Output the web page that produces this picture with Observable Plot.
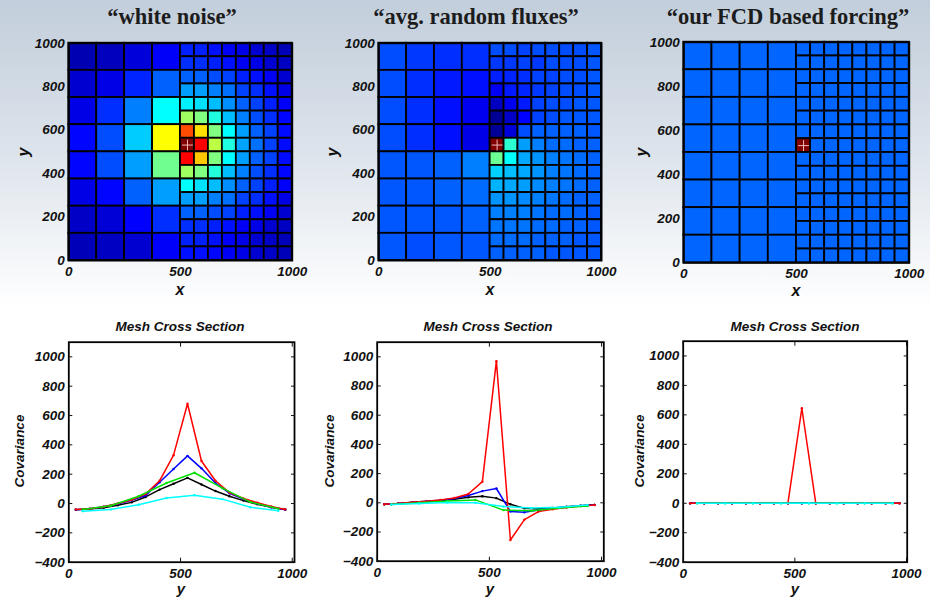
<!DOCTYPE html>
<html><head><meta charset="utf-8">
<script src="https://cdn.jsdelivr.net/npm/d3@7"></script>
<script src="https://cdn.jsdelivr.net/npm/@observablehq/plot@0.6"></script>
<style>
html,body{margin:0;padding:0;}
body{width:930px;height:599px;overflow:hidden;position:relative;
  background:linear-gradient(to bottom,#c2cedb 0px,#dce3eb 150px,#fbfcfd 290px,#ffffff 310px,#ffffff 599px);}
#root{position:absolute;left:0;top:0;width:930px;height:599px;}
.title{position:absolute;top:6px;font-family:"Liberation Serif","Times New Roman",serif;font-weight:bold;font-size:22.5px;line-height:1;color:#1c1c1c;transform:translateX(-50%);white-space:nowrap;}
.sub{position:absolute;top:320px;font-family:"Liberation Sans",Arial,sans-serif;font-weight:bold;font-style:italic;font-size:13.5px;line-height:1;color:#111;transform:translateX(-50%);white-space:nowrap;}
.lab{position:absolute;font-family:"Liberation Sans",Arial,sans-serif;font-weight:bold;font-style:italic;line-height:1;color:#111;white-space:nowrap;}
</style></head>
<body>
<div id="root"></div>
<script>
// ---------- mesh definition ----------
const coarseEdgesX = [0, 125, 250, 375, 500];
const coarseEdgesY = [0, 125, 250, 375, 500, 625, 750, 875, 1000];
const fineEdgesX = [500, 562.5, 625, 687.5, 750, 812.5, 875, 937.5, 1000];
const fineEdgesY = [0, 62.5, 125, 187.5, 250, 312.5, 375, 437.5, 500, 562.5, 625, 687.5, 750, 812.5, 875, 937.5, 1000];
const targetCell = {col: 0, row: 8}; // fine cell marked with "+" (row counted from bottom)

// ---------- heatmap values (jet colormap level 0..1), rows listed top -> bottom ----------
const whiteNoiseCoarse = [
  [0.05, 0.06, 0.09, 0.12],
  [0.08, 0.10, 0.16, 0.22],
  [0.10, 0.17, 0.25, 0.375],
  [0.13, 0.20, 0.325, 0.625],
  [0.13, 0.20, 0.28, 0.485],
  [0.10, 0.13, 0.22, 0.28],
  [0.07, 0.085, 0.125, 0.17],
  [0.055, 0.065, 0.08, 0.12]
];
const whiteNoiseFine = [
  [0.155, 0.155, 0.14, 0.115, 0.10, 0.08, 0.07, 0.055],
  [0.17, 0.17, 0.155, 0.14, 0.115, 0.10, 0.08, 0.065],
  [0.22, 0.22, 0.20, 0.19, 0.155, 0.14, 0.115, 0.08],
  [0.28, 0.28, 0.25, 0.235, 0.19, 0.17, 0.14, 0.10],
  [0.36, 0.345, 0.31, 0.265, 0.22, 0.19, 0.155, 0.12],
  [0.53, 0.50, 0.405, 0.31, 0.25, 0.20, 0.17, 0.13],
  [0.80, 0.655, 0.50, 0.375, 0.28, 0.22, 0.19, 0.135],
  [1.00, 0.875, 0.56, 0.405, 0.285, 0.235, 0.19, 0.135],
  [0.875, 0.68, 0.50, 0.375, 0.28, 0.22, 0.19, 0.135],
  [0.53, 0.50, 0.41, 0.31, 0.25, 0.20, 0.17, 0.13],
  [0.375, 0.345, 0.31, 0.265, 0.22, 0.19, 0.155, 0.12],
  [0.28, 0.28, 0.25, 0.235, 0.19, 0.17, 0.14, 0.10],
  [0.22, 0.22, 0.20, 0.19, 0.155, 0.14, 0.115, 0.08],
  [0.17, 0.17, 0.155, 0.14, 0.115, 0.10, 0.08, 0.065],
  [0.155, 0.155, 0.14, 0.12, 0.10, 0.08, 0.07, 0.055],
  [0.14, 0.14, 0.13, 0.115, 0.10, 0.08, 0.07, 0.055]
];
const avgFluxCoarse = [
  [0.20, 0.18, 0.17, 0.17],
  [0.20, 0.17, 0.15, 0.14],
  [0.20, 0.17, 0.14, 0.11],
  [0.20, 0.17, 0.14, 0.10],
  [0.21, 0.21, 0.22, 0.25],
  [0.21, 0.21, 0.22, 0.23],
  [0.21, 0.21, 0.21, 0.22],
  [0.21, 0.20, 0.21, 0.21]
];
const avgFluxFine = [
  [0.20, 0.20, 0.19, 0.20, 0.20, 0.20, 0.20, 0.21],
  [0.18, 0.18, 0.19, 0.18, 0.20, 0.20, 0.20, 0.21],
  [0.155, 0.16, 0.17, 0.19, 0.19, 0.20, 0.20, 0.21],
  [0.115, 0.15, 0.16, 0.18, 0.19, 0.20, 0.20, 0.21],
  [0.065, 0.11, 0.15, 0.19, 0.20, 0.20, 0.21, 0.21],
  [0.02, 0.07, 0.125, 0.19, 0.20, 0.21, 0.21, 0.21],
  [0.025, 0.09, 0.20, 0.22, 0.22, 0.22, 0.22, 0.21],
  [1.00, 0.42, 0.28, 0.25, 0.23, 0.23, 0.22, 0.22],
  [0.48, 0.375, 0.29, 0.27, 0.25, 0.24, 0.23, 0.22],
  [0.33, 0.31, 0.29, 0.27, 0.25, 0.24, 0.23, 0.22],
  [0.30, 0.29, 0.28, 0.26, 0.25, 0.24, 0.23, 0.22],
  [0.27, 0.27, 0.26, 0.25, 0.24, 0.23, 0.22, 0.22],
  [0.25, 0.25, 0.25, 0.24, 0.23, 0.23, 0.22, 0.21],
  [0.24, 0.24, 0.24, 0.23, 0.23, 0.22, 0.22, 0.21],
  [0.23, 0.23, 0.23, 0.22, 0.22, 0.22, 0.21, 0.21],
  [0.22, 0.22, 0.22, 0.22, 0.21, 0.21, 0.21, 0.21]
];
const fcdCoarse = [
  [0.225, 0.225, 0.225, 0.225],
  [0.225, 0.225, 0.225, 0.225],
  [0.225, 0.225, 0.225, 0.225],
  [0.225, 0.225, 0.225, 0.225],
  [0.225, 0.225, 0.225, 0.225],
  [0.225, 0.225, 0.225, 0.225],
  [0.225, 0.225, 0.225, 0.225],
  [0.225, 0.225, 0.225, 0.225]
];
const fcdFine = [
  [0.225, 0.225, 0.225, 0.225, 0.225, 0.225, 0.225, 0.225],
  [0.225, 0.225, 0.225, 0.225, 0.225, 0.225, 0.225, 0.225],
  [0.225, 0.225, 0.225, 0.225, 0.225, 0.225, 0.225, 0.225],
  [0.225, 0.225, 0.225, 0.225, 0.225, 0.225, 0.225, 0.225],
  [0.225, 0.225, 0.225, 0.225, 0.225, 0.225, 0.225, 0.225],
  [0.225, 0.225, 0.225, 0.225, 0.225, 0.225, 0.225, 0.225],
  [0.225, 0.225, 0.225, 0.225, 0.225, 0.225, 0.225, 0.225],
  [1.00, 0.225, 0.225, 0.225, 0.225, 0.225, 0.225, 0.225],
  [0.225, 0.225, 0.225, 0.225, 0.225, 0.225, 0.225, 0.225],
  [0.225, 0.225, 0.225, 0.225, 0.225, 0.225, 0.225, 0.225],
  [0.225, 0.225, 0.225, 0.225, 0.225, 0.225, 0.225, 0.225],
  [0.225, 0.225, 0.225, 0.225, 0.225, 0.225, 0.225, 0.225],
  [0.225, 0.225, 0.225, 0.225, 0.225, 0.225, 0.225, 0.225],
  [0.225, 0.225, 0.225, 0.225, 0.225, 0.225, 0.225, 0.225],
  [0.225, 0.225, 0.225, 0.225, 0.225, 0.225, 0.225, 0.225],
  [0.225, 0.225, 0.225, 0.225, 0.225, 0.225, 0.225, 0.225]
];

// ---------- cross sections ----------
const fineY = [31.25, 93.75, 156.25, 218.75, 281.25, 343.75, 406.25, 468.75, 531.25, 593.75, 656.25, 718.75, 781.25, 843.75, 906.25, 968.75];
const coarseY = [62.5, 187.5, 312.5, 437.5, 562.5, 687.5, 812.5, 937.5];

const wnRed   = [-40, -35, -22, 0, 25, 65, 155, 330, 680, 290, 155, 75, 35, 5, -20, -40];
const wnBlue  = [-42, -35, -22, -3, 22, 55, 145, 235, 325, 240, 140, 70, 30, 0, -25, -42];
const wnBlack = [-42, -38, -28, -12, 8, 45, 95, 135, 175, 130, 85, 50, 20, -5, -25, -40];
const wnGreen = [-40, -15, 50, 140, 210, 105, 10, -35];
const wnCyan  = [-52, -40, -8, 38, 57, 30, -25, -50];

const afRed   = [-10, -5, 3, 10, 20, 33, 60, 145, 970, -255, -115, -60, -45, -33, -22, -15];
const afBlue  = [-10, -5, 3, 10, 18, 30, 50, 80, 98, -60, -65, -50, -38, -28, -20, -14];
const afBlack = [-10, -5, 2, 8, 15, 25, 38, 45, 32, -10, -38, -42, -35, -27, -20, -14];
const afGreen = [-12, 0, 12, 20, -50, -55, -35, -22];
const afCyan  = [-12, -5, 2, 0, -25, -35, -30, -15];

const fcRed   = [0, 0, 0, 0, 0, 0, 0, 0, 645, 0, 0, 0, 0, 0, 0, 0];
const fcBlue  = [0, 0, 0, 0, 0, 0, 0, 0, 0, 0, 0, 0, 0, 0, 0, 0];
const fcBlack = [0, 0, 0, 0, 0, 0, 0, 0, 0, 0, 0, 0, 0, 0, 0, 0];
const fcGreen = [0, 0, 0, 0, 0, 0, 0, 0];
const fcCyan  = [0, 0, 0, 0, 0, 0, 0, 0];

// ---------- ticks & labels ----------
const meshXTicks = [0, 500, 1000];
const meshYTicks = [0, 200, 400, 600, 800, 1000];
const covTicks = [-400, -200, 0, 200, 400, 600, 800, 1000];
const titles = ["\u201cwhite noise\u201d", "\u201cavg. random fluxes\u201d", "\u201cour FCD based forcing\u201d"];
const subTitle = "Mesh Cross Section";

// jet colormap anchors
const jetStops = [0, 0.125, 0.375, 0.625, 0.875, 1];
const jetColors = ["#000080", "#0000ff", "#00ffff", "#ffff00", "#ff0000", "#800000"];

const root = document.getElementById("root");
const FONT = "'Liberation Sans', Arial, Helvetica, sans-serif";
const fmt = d => (d < 0 ? "\u2212" + Math.abs(d) : String(d));
const blank = () => "";

function buildCells(coarse, fine) {
  const cells = [];
  const nc = coarseEdgesY.length - 1, nf = fineEdgesY.length - 1;
  coarse.forEach((row, r) => row.forEach((v, c) => {
    const ri = nc - 1 - r;
    cells.push({x1: coarseEdgesX[c], x2: coarseEdgesX[c + 1], y1: coarseEdgesY[ri], y2: coarseEdgesY[ri + 1], v});
  }));
  fine.forEach((row, r) => row.forEach((v, c) => {
    const ri = nf - 1 - r;
    cells.push({x1: fineEdgesX[c], x2: fineEdgesX[c + 1], y1: fineEdgesY[ri], y2: fineEdgesY[ri + 1], v});
  }));
  return cells;
}
const target = [{
  x: (fineEdgesX[targetCell.col] + fineEdgesX[targetCell.col + 1]) / 2,
  y: (fineEdgesY[targetCell.row] + fineEdgesY[targetCell.row + 1]) / 2
}];

function place(svg, box) {
  svg.style.position = "absolute";
  svg.style.left = box.x + "px";
  svg.style.top = box.y + "px";
  root.appendChild(svg);
}
function margins(frame, box) {
  return {
    width: box.w, height: box.h,
    marginLeft: frame.l - box.x, marginRight: box.x + box.w - frame.r,
    marginTop: frame.t - box.y, marginBottom: box.y + box.h - frame.b
  };
}
function addLabel(text, cx, cy, size, rotate) {
  const d = document.createElement("div");
  d.className = "lab";
  d.textContent = text;
  d.style.fontSize = size + "px";
  d.style.left = cx + "px";
  d.style.top = cy + "px";
  d.style.transform = "translate(-50%,-50%)" + (rotate ? " rotate(-90deg)" : "");
  root.appendChild(d);
}
function addDiv(cls, text, cx) {
  const d = document.createElement("div");
  d.className = cls;
  d.textContent = text;
  d.style.left = cx + "px";
  root.appendChild(d);
}

const style = {background: "transparent", fontFamily: FONT, fontSize: "13.5px", fontWeight: "bold", fontStyle: "italic", color: "#111", overflow: "visible"};

function heatmap(frame, box, coarse, fine) {
  const svg = Plot.plot({
    ...margins(frame, box),
    style,
    x: {domain: [0, 1000]},
    y: {domain: [0, 1000]},
    color: {type: "linear", domain: jetStops, range: jetColors, clamp: true},
    marks: [
      Plot.rect(buildCells(coarse, fine), {x1: "x1", x2: "x2", y1: "y1", y2: "y2", fill: "v", stroke: "#000", strokeWidth: 1.8}),
      Plot.frame({stroke: "#000", strokeWidth: 2}),
      Plot.dot(target, {x: "x", y: "y", symbol: "plus", r: 3.6, stroke: "#efb8b8", strokeWidth: 1}),
      Plot.axisX({ticks: meshXTicks, tickSize: 0, tickPadding: 6, tickFormat: fmt, label: null}),
      Plot.axisY({ticks: meshYTicks, tickSize: 0, tickPadding: 4, tickFormat: fmt, label: null})
    ]
  });
  place(svg, box);
}

function crossSection(frame, box, xmax, red, blue, black, green, cyan) {
  const fineSeries = (vals) => vals.map((v, i) => ({y: fineY[i], v}));
  const coarseSeries = (vals) => vals.map((v, i) => ({y: coarseY[i], v}));
  // drawing order: later series are drawn on top
  const series = [
    [fineSeries(black), "#000000"],
    [fineSeries(blue), "#0000ff"],
    [fineSeries(red), "#ff0000"],
    [coarseSeries(green), "#00e000"],
    [coarseSeries(cyan), "#00ffff"]
  ];
  const marks = [];
  for (const [d, c] of series) {
    marks.push(Plot.line(d, {x: "y", y: "v", stroke: c, strokeWidth: 1.5}));
    marks.push(Plot.dot(d, {x: "y", y: "v", fill: c, r: 1.2}));
  }
  marks.push(
    Plot.frame({stroke: "#000", strokeWidth: 1.8}),
    Plot.axisX({ticks: meshXTicks, tickSize: 0, tickPadding: 6, tickFormat: fmt, label: null}),
    Plot.axisY({ticks: covTicks, tickSize: 0, tickPadding: 4, tickFormat: fmt, label: null}),
    // inward tick marks (outward ticks shifted back inside the frame)
    Plot.axisY({anchor: "left", ticks: covTicks, tickSize: 4, dx: 4, tickFormat: blank, label: null}),
    Plot.axisY({anchor: "right", ticks: covTicks, tickSize: 4, dx: -4, tickFormat: blank, label: null}),
    Plot.axisX({anchor: "top", ticks: meshXTicks, tickSize: 4, dy: 4, tickFormat: blank, label: null}),
    Plot.axisX({anchor: "bottom", ticks: meshXTicks, tickSize: 4, dy: -4, tickFormat: blank, label: null})
  );
  const svg = Plot.plot({
    ...margins(frame, box),
    style,
    x: {domain: [0, xmax]},
    y: {domain: [-400, 1100]},
    marks
  });
  place(svg, box);
}

// top row
const topFrames = [
  {l: 68.3, r: 291.7, t: 42.7, b: 260},
  {l: 378.3, r: 601, t: 42.7, b: 260},
  {l: 683.3, r: 908.7, t: 41.7, b: 262.3}
];
const topBoxes = [{x: 0, y: 30, w: 310, h: 275}, {x: 310, y: 30, w: 310, h: 275}, {x: 620, y: 30, w: 310, h: 275}];
heatmap(topFrames[0], topBoxes[0], whiteNoiseCoarse, whiteNoiseFine);
heatmap(topFrames[1], topBoxes[1], avgFluxCoarse, avgFluxFine);
heatmap(topFrames[2], topBoxes[2], fcdCoarse, fcdFine);

// bottom row
const botFrames = [
  {l: 68.3, r: 294, t: 341.7, b: 561.7},
  {l: 376.7, r: 603.3, t: 341.7, b: 560.7},
  {l: 682.7, r: 906.7, t: 340.7, b: 561.7}
];
const botBoxes = [{x: 0, y: 335, w: 310, h: 264}, {x: 310, y: 335, w: 310, h: 264}, {x: 620, y: 335, w: 310, h: 264}];
crossSection(botFrames[0], botBoxes[0], 1010, wnRed, wnBlue, wnBlack, wnGreen, wnCyan);
crossSection(botFrames[1], botBoxes[1], 1010, afRed, afBlue, afBlack, afGreen, afCyan);
crossSection(botFrames[2], botBoxes[2], 1003, fcRed, fcBlue, fcBlack, fcGreen, fcCyan);

// titles and axis labels
const titleX = [172, 476, 788];
titles.forEach((t, i) => addDiv("title", t, titleX[i]));
[180, 488, 795].forEach(cx => addDiv("sub", subTitle, cx));
[[24, 152], [333, 152], [642, 152]].forEach(([x, y]) => addLabel("y", x, y, 16, true));
[[180, 290], [490, 290], [796, 291]].forEach(([x, y]) => addLabel("x", x, y, 16, false));
[[20, 451], [330, 451], [640, 451]].forEach(([x, y]) => addLabel("Covariance", x, y, 13.5, true));
[[181, 588], [490, 588], [795, 588]].forEach(([x, y]) => addLabel("y", x, y, 15, false));
</script>
</body></html>
